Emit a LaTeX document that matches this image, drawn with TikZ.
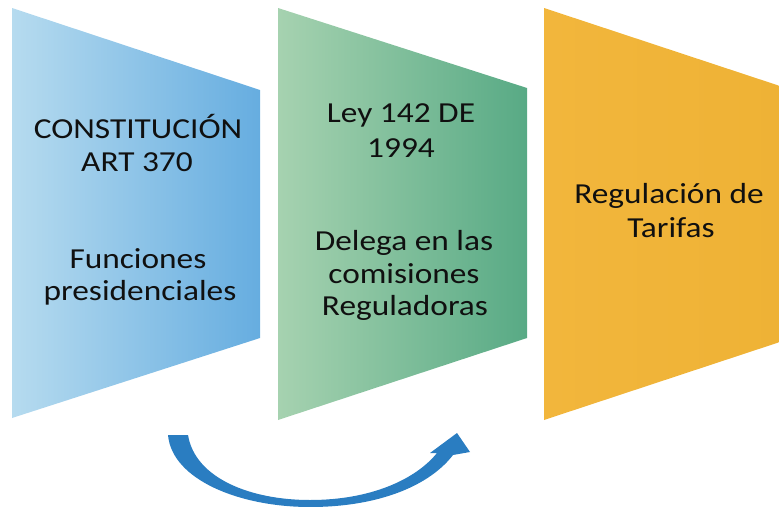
\documentclass[tikz,border=0pt]{standalone}
\usepackage{fontspec}
\setmainfont[FakeStretch=1.15]{Carlito}
\definecolor{blueL}{HTML}{B6DBEF}
\definecolor{blueR}{HTML}{66ADE0}
\definecolor{greenL}{HTML}{A6D2B0}
\definecolor{greenR}{HTML}{58AA85}
\definecolor{orangeL}{HTML}{F2B63C}
\definecolor{orangeR}{HTML}{EEB235}
\definecolor{arrowblue}{HTML}{2A7DC1}
\definecolor{ink}{HTML}{101010}
\tikzset{
  txt/.style={anchor=base, inner sep=0pt, text=ink, font=\fontsize{29}{33}\selectfont},
  panel/.style={draw=none}
}
\begin{document}
\begin{tikzpicture}[x=1pt,y=-1pt]
\useasboundingbox (0,0) rectangle (779,506);
\begin{scope}
\clip (0,0) rectangle (779,506);
% panels
\path[panel, left color=blueL, right color=blueR] (12,8) -- (260,90) -- (260,338) -- (12,418) -- cycle;
\path[panel, left color=greenL, right color=greenR] (278,8) -- (527,88) -- (527,338) -- (278,420) -- cycle;
\path[panel, left color=orangeL, right color=orangeR] (544,8) -- (792,90) -- (792,338) -- (544,420) -- cycle;
% curved arrow
\coordinate (tailL) at (168,435);
\coordinate (tailR) at (188,435);
\coordinate (bottomO) at (310,507);
\coordinate (bottomI) at (310,500);
\coordinate (shaftO) at (453,455);
\coordinate (shaftI) at (437,453);
\coordinate (headL) at (430,453);
\coordinate (headT) at (457,433);
\coordinate (headR) at (470,452);
\fill[arrowblue] (tailL) .. controls (172,480) and (240,507) .. (bottomO)
  .. controls (380,507) and (430,485) .. (shaftO)
  -- (headR) -- (headT) -- (headL) -- (shaftI)
  .. controls (415,480) and (370,500) .. (bottomI)
  .. controls (250,500) and (195,478) .. (tailR)
  -- cycle;
\end{scope}
% texts
\node[txt] (b1) at (138,138) {CONSTITUCIÓN};
\node[txt] (b2) at (137,171) {ART 370};
\node[txt] (b3) at (138,268) {Funciones};
\node[txt] (b4) at (140,300) {presidenciales};
\node[txt] (g1) at (401,122) {Ley 142 DE};
\node[txt] (g2) at (401,157) {1994};
\node[txt] (g3) at (404,250) {Delega en las};
\node[txt] (g4) at (404,283) {comisiones};
\node[txt] (g5) at (405,315) {Reguladoras};
\node[txt] (o1) at (669,203) {Regulación de};
\node[txt] (o2) at (671,237) {Tarifas};
\end{tikzpicture}
\end{document}
